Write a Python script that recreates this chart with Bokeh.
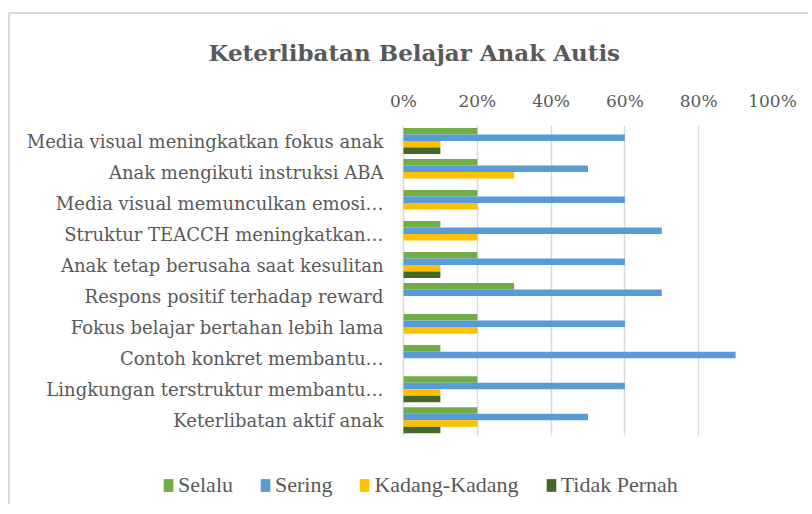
from bokeh.plotting import figure
from bokeh.models import Legend, LegendItem, FixedTicker, NumeralTickFormatter, Range1d, ColumnDataSource
from bokeh.core.properties import value
from bokeh.transform import dodge
from bokeh.embed import file_html
from bokeh.resources import INLINE

categories = [
    "Media visual meningkatkan fokus anak",
    "Anak mengikuti instruksi ABA",
    "Media visual memunculkan emosi…",
    "Struktur TEACCH meningkatkan…",
    "Anak tetap berusaha saat kesulitan",
    "Respons positif terhadap reward",
    "Fokus belajar bertahan lebih lama",
    "Contoh konkret membantu…",
    "Lingkungan terstruktur membantu…",
    "Keterlibatan aktif anak",
]
selalu = [0.20, 0.20, 0.20, 0.10, 0.20, 0.30, 0.20, 0.10, 0.20, 0.20]
sering = [0.60, 0.50, 0.60, 0.70, 0.60, 0.70, 0.60, 0.90, 0.60, 0.50]
kadang = [0.10, 0.30, 0.20, 0.20, 0.10, 0.00, 0.20, 0.00, 0.10, 0.20]
tidak = [0.10, 0.00, 0.00, 0.00, 0.10, 0.00, 0.00, 0.00, 0.10, 0.10]
series_names = ["Selalu", "Sering", "Kadang-Kadang", "Tidak Pernah"]
x_ticks = [0, 0.2, 0.4, 0.6, 0.8, 1.0]
chart_title = "Keterlibatan Belajar Anak Autis"

colors = ["#70AD47", "#5B9BD5", "#FFC000", "#43682B"]
offsets = [0.315, 0.105, -0.105, -0.315]
FONT = "DejaVu Serif"
TXT = "#595959"

n = len(categories)
ypos = [n - 1 - i for i in range(n)]  # first category on top
source = ColumnDataSource(dict(cat=categories, y=ypos, s0=selalu, s1=sering, s2=kadang, s3=tidak))

# page geometry (chart box border at left/top, canvas starts inside it)
OX, OY = 10, 14
PAGE_R, PAGE_B = 810, 506
LEFT_PX, RIGHT_PX, TOP_PX, BOTTOM_PX = 403, 772, 124, 435
W, H = PAGE_R - OX, PAGE_B - OY
x_start = -(LEFT_PX - OX) / (RIGHT_PX - LEFT_PX)
band = (BOTTOM_PX - TOP_PX) / n
y_top = n - 0.5
y_bottom = y_top - (PAGE_B - TOP_PX) / band

p = figure(
    width=W, height=H,
    x_range=Range1d(x_start, 1.0), y_range=Range1d(y_bottom, y_top),
    x_axis_location="above", y_axis_location=None,
    output_backend="svg", toolbar_location=None,
    min_border_left=0, min_border_right=PAGE_R - RIGHT_PX, min_border_top=TOP_PX - OY, min_border_bottom=0,
    title=chart_title,
)
p.styles = {"margin-left": "8px", "margin-top": "12px",
            "border-left": "2px solid #d9d9d9", "border-top": "2px solid #d9d9d9"}
p.outline_line_color = None
p.background_fill_color = "white"
p.border_fill_color = "white"

p.title.text_font = FONT
p.title.text_font_size = "23px"
p.title.text_font_style = "bold"
p.title.text_color = TXT
p.title.align = "left"
p.title.offset = 208 - OX
p.title.standoff = 44

renderers = []
for i, key in enumerate(["s0", "s1", "s2", "s3"]):
    r = p.hbar(y=dodge("y", offsets[i]), right=key, left=0, height=0.21,
               source=source, fill_color=colors[i], line_color=None)
    renderers.append(r)

p.text(x=0, y="y", text="cat", source=source, x_offset=-20,
       text_align="right", text_baseline="middle",
       text_font=value(FONT), text_font_size="18px", text_color=TXT)

xa = p.xaxis[0]
xa.ticker = FixedTicker(ticks=x_ticks)
xa.formatter = NumeralTickFormatter(format="0%")
xa.axis_line_color = None
xa.major_tick_line_color = None
xa.minor_tick_line_color = None
xa.major_label_text_font = FONT
xa.major_label_text_font_size = "17px"
xa.major_label_text_color = TXT
xa.major_label_standoff = 9

p.xgrid.grid_line_color = "#d9d9d9"
p.xgrid.grid_line_width = 1.5
p.xgrid.ticker = FixedTicker(ticks=x_ticks)
p.xgrid.cross_bounds = (-0.5, n - 0.5)
p.ygrid.grid_line_color = None

legend = Legend(
    items=[LegendItem(label=series_names[i], renderers=[renderers[i]]) for i in range(4)],
    orientation="horizontal",
    location=(162 - OX, 8),
    label_text_font="serif", label_text_font_size="22px", label_text_color=TXT,
    glyph_width=12, glyph_height=16, label_standoff=4, spacing=26,
    padding=0, margin=0,
    border_line_color=None, background_fill_alpha=0,
)
p.add_layout(legend, "center")

open("out.html", "w").write(file_html(p, INLINE))
